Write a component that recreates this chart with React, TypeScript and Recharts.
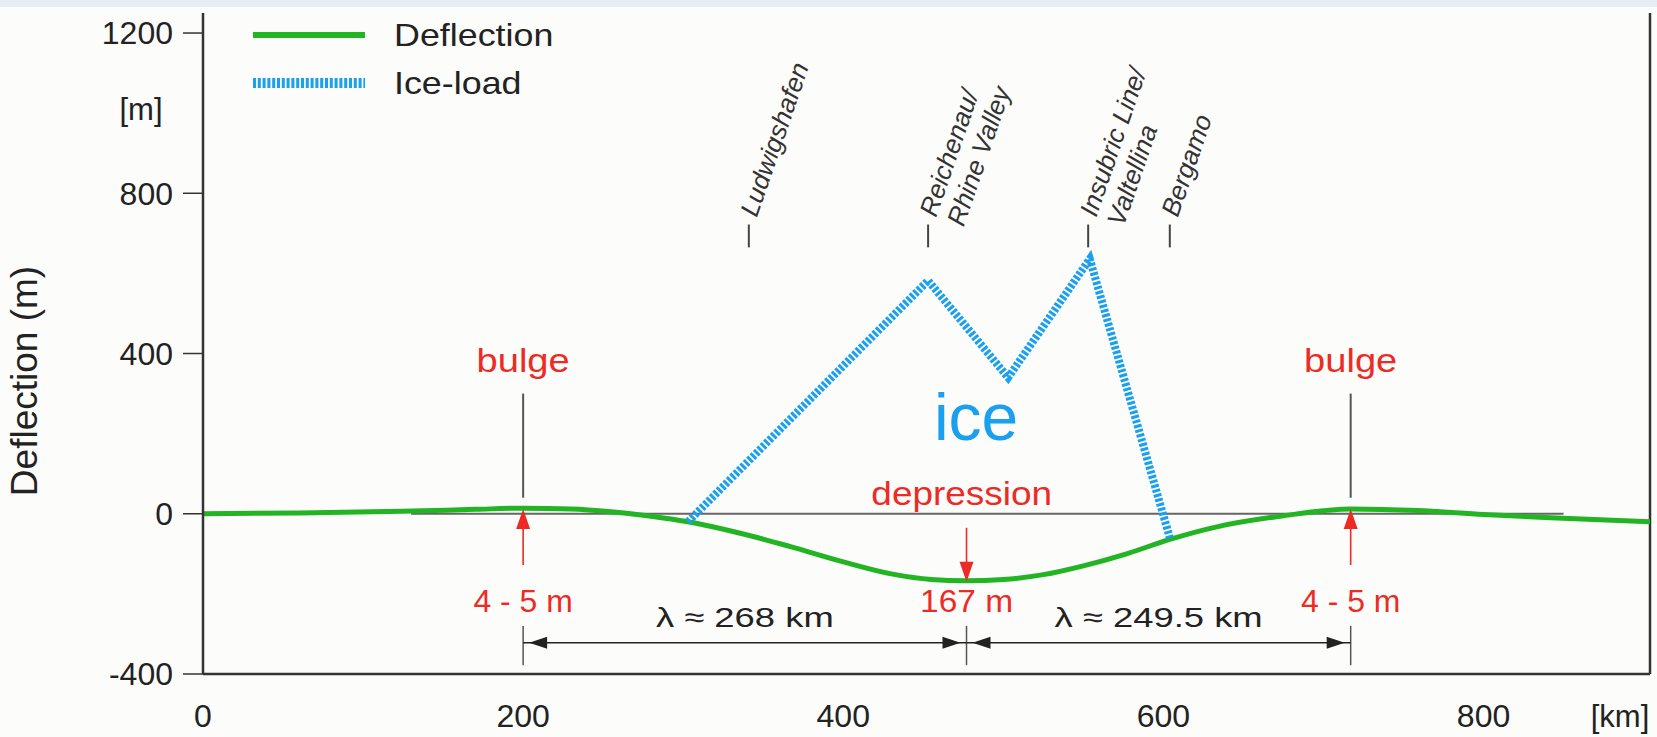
import React from 'react';
import { ComposedChart, Line, XAxis, YAxis, ReferenceLine, ReferenceDot, Legend } from 'recharts';

const FONT = '"Liberation Sans", Arial, Helvetica, sans-serif';
const GREEN = '#22b422';
const BLUE = '#1aa0ee';
const RED = '#ec2b25';
const INK = '#222';

// deflection profile (km along the section, metres)
const deflectionKm = [0, 60, 124, 170, 200, 230, 255, 280, 303, 335, 367, 400, 430, 455, 477, 500, 525, 550, 577, 604, 634, 675, 717, 759, 800, 842, 904];
const deflectionM = [0, 2, 6, 11, 14, 12, 5, -6, -20, -48, -82, -120, -150, -164, -167, -164, -152, -130, -100, -64, -32, -5, 12, 8, -2, -10, -20];

// ice load outline
const iceKm = [303, 453, 503, 554, 604];
const iceM = [-20, 582, 340, 636, -60];

const xTicks = [0, 200, 400, 600, 800];
const yTicks = [-400, 0, 400, 800, 1200];

const bulgeKm = [200, 717];
const depressionKm = 477;
const wavelengthLabels = ['λ ≈ 268 km', 'λ ≈ 249.5 km'];
const siteKm = [341, 453, 553, 604];
const siteNames = [['Ludwigshafen'], ['Reichenau/', 'Rhine Valley'], ['Insubric Line/', 'Valtellina'], ['Bergamo']];

const deflectionData = deflectionKm.map((km, i) => ({ km, m: deflectionM[i] }));
const iceData = iceKm.map((km, i) => ({ km, m: iceM[i] }));

const textAt = (text: string, size: number, color: string, sx = 1) => (p: any) => (
  <text
    transform={`translate(${p.cx},${p.cy}) scale(${sx},1)`}
    textAnchor="middle"
    fontSize={size}
    fill={color}
    fontFamily={FONT}
  >
    {text}
  </text>
);

const head = (dir: string, color: string, len: number, half: number, gap = 0) => (p: any) => {
  const { cx, cy } = p;
  let pts = '';
  if (dir === 'up') pts = `${cx},${cy} ${cx - half},${cy + len} ${cx + half},${cy + len}`;
  if (dir === 'down') pts = `${cx},${cy} ${cx - half},${cy - len} ${cx + half},${cy - len}`;
  if (dir === 'left') {
    const x = cx + gap;
    pts = `${x},${cy} ${x + len},${cy - half} ${x + len},${cy + half}`;
  }
  if (dir === 'right') {
    const x = cx - gap;
    pts = `${x},${cy} ${x - len},${cy - half} ${x - len},${cy + half}`;
  }
  return <polygon points={pts} fill={color} />;
};

const siteLabel = (lines: string[]) => (p: any) => (
  <g transform={`translate(${p.cx + 8},${p.cy}) rotate(-71)`}>
    {lines.map((t, i) => (
      <text key={i} x={0} y={i * 29} fontSize={26} fontStyle="italic" fill="#333" fontFamily={FONT}>
        {t}
      </text>
    ))}
  </g>
);

function YTitle(props: any) {
  const vb = props.viewBox || { x: 0, y: 0, width: 0, height: 0 };
  const cy = vb.y + 368;
  return (
    <g>
      <text
        transform={`translate(${vb.x + 24},${cy}) rotate(-90)`}
        textAnchor="middle"
        dominantBaseline="central"
        fontSize={37}
        fill={INK}
        fontFamily={FONT}
      >
        Deflection (m)
      </text>
      <text x={vb.x + 141} y={vb.y + 96} textAnchor="middle" dominantBaseline="central" fontSize={31} fill={INK} fontFamily={FONT}>
        [m]
      </text>
    </g>
  );
}

function KmUnit(props: any) {
  const vb = props.viewBox || { x: 0, y: 0, width: 0, height: 0 };
  return (
    <text x={vb.x + vb.width - 30} y={vb.y + 53} textAnchor="middle" fontSize={31} fill={INK} fontFamily={FONT}>
      [km]
    </text>
  );
}

const renderLegend = () => (
  <svg width={400} height={110}>
    <line x1={13} x2={125} y1={35} y2={35} stroke={GREEN} strokeWidth={6} />
    <text transform="translate(154,35) scale(1.12,1)" dominantBaseline="central" fontSize={32} fill={INK} fontFamily={FONT}>
      Deflection
    </text>
    <line x1={13} x2={125} y1={83} y2={83} stroke={BLUE} strokeWidth={10} strokeDasharray="3 1.8" />
    <text transform="translate(154,83) scale(1.12,1)" dominantBaseline="central" fontSize={32} fill={INK} fontFamily={FONT}>
      Ice-load
    </text>
  </svg>
);

export default function App() {
  const axisStyle = { stroke: '#333', strokeWidth: 2.5 };
  const tickStyle = { fontSize: 32, fill: INK, fontFamily: FONT };
  const spans = [[bulgeKm[0], depressionKm], [depressionKm, bulgeKm[1]]];
  return (
    <div style={{ position: 'absolute', left: 0, top: 0, width: 1657, height: 737, background: '#fcfcfb', overflow: 'hidden' }}>
      <div style={{ position: 'absolute', left: 0, top: 0, width: 1657, height: 7, background: '#e6edf4' }} />
      <ComposedChart width={1657} height={737} margin={{ top: 13, right: 7, bottom: 0, left: 0 }}>
        <XAxis
          type="number"
          dataKey="km"
          domain={[0, 904]}
          ticks={xTicks}
          allowDataOverflow
          height={63}
          tickSize={0}
          tickMargin={30}
          tickLine={false}
          axisLine={axisStyle}
          tick={tickStyle}
          label={<KmUnit />}
        />
        <YAxis
          type="number"
          domain={[-400, 1250]}
          ticks={yTicks}
          allowDataOverflow
          width={203}
          tickSize={20}
          tickMargin={10}
          tickLine={{ stroke: '#333', strokeWidth: 1.5 }}
          axisLine={axisStyle}
          tick={tickStyle}
          label={<YTitle />}
        />
        <Legend layout="horizontal" verticalAlign="middle" align="center" content={renderLegend} wrapperStyle={{ top: 0, left: 240, width: 400, height: 110 }} />

        <ReferenceLine x={904} stroke="#333" strokeWidth={2.5} />
        <ReferenceLine segment={[{ x: 130, y: 0 }, { x: 850, y: 0 }]} stroke="#666" strokeWidth={2} />

        {/* site ticks and names */}
        {siteKm.map((km, i) => (
          <ReferenceLine key={'st' + i} segment={[{ x: km, y: 665 }, { x: km, y: 722 }]} stroke="#444" strokeWidth={2} />
        ))}
        {siteKm.map((km, i) => (
          <ReferenceDot key={'sn' + i} x={km} y={738} r={0} ifOverflow="visible" shape={siteLabel(siteNames[i])} />
        ))}

        {/* bulges */}
        {bulgeKm.map((km, i) => (
          <ReferenceLine key={'bl' + i} segment={[{ x: km, y: 40 }, { x: km, y: 300 }]} stroke="#555" strokeWidth={2} />
        ))}
        {bulgeKm.map((km, i) => (
          <ReferenceLine key={'bs' + i} segment={[{ x: km, y: -128 }, { x: km, y: -10 }]} stroke={RED} strokeWidth={1.6} />
        ))}
        {bulgeKm.map((km, i) => (
          <ReferenceDot key={'bh' + i} x={km} y={12} r={0} ifOverflow="visible" shape={head('up', RED, 20, 7)} />
        ))}
        {bulgeKm.map((km, i) => (
          <ReferenceDot key={'bt' + i} x={km} y={355} r={0} ifOverflow="visible" shape={textAt('bulge', 34, RED, 1.12)} />
        ))}
        {bulgeKm.map((km, i) => (
          <ReferenceDot key={'bv' + i} x={km} y={-245} r={0} ifOverflow="visible" shape={textAt('4 - 5 m', 31, RED, 1.03)} />
        ))}

        {/* depression */}
        <ReferenceLine segment={[{ x: depressionKm, y: -35 }, { x: depressionKm, y: -150 }]} stroke={RED} strokeWidth={1.6} />
        <ReferenceDot x={depressionKm} y={-170} r={0} ifOverflow="visible" shape={head('down', RED, 20, 7)} />
        <ReferenceDot x={474} y={22} r={0} ifOverflow="visible" shape={textAt('depression', 33, RED, 1.12)} />
        <ReferenceDot x={depressionKm} y={-245} r={0} ifOverflow="visible" shape={textAt('167 m', 31, RED, 1.08)} />

        {/* wavelength dimension lines */}
        {[bulgeKm[0], depressionKm, bulgeKm[1]].map((km, i) => (
          <ReferenceLine key={'dt' + i} segment={[{ x: km, y: -280 }, { x: km, y: -378 }]} stroke="#555" strokeWidth={1.5} />
        ))}
        {spans.map(([a, b], i) => (
          <ReferenceLine key={'dl' + i} segment={[{ x: a, y: -322 }, { x: b, y: -322 }]} stroke={INK} strokeWidth={1.5} />
        ))}
        {spans.map(([a], i) => (
          <ReferenceDot key={'dha' + i} x={a} y={-322} r={0} ifOverflow="visible" shape={head('left', INK, 18, 6, 6)} />
        ))}
        {spans.map(([, b], i) => (
          <ReferenceDot key={'dhb' + i} x={b} y={-322} r={0} ifOverflow="visible" shape={head('right', INK, 18, 6, 6)} />
        ))}
        {spans.map(([a, b], i) => (
          <ReferenceDot key={'dtx' + i} x={(a + b) / 2} y={-282} r={0} ifOverflow="visible" shape={textAt(wavelengthLabels[i], 28, INK, 1.3)} />
        ))}

        <ReferenceDot x={483} y={185} r={0} ifOverflow="visible" shape={textAt('ice', 66, BLUE)} />

        <Line data={deflectionData} dataKey="m" type="monotone" stroke={GREEN} strokeWidth={5} dot={false} isAnimationActive={false} />
        <Line data={iceData} dataKey="m" type="linear" stroke={BLUE} strokeWidth={8} strokeDasharray="3 1.8" dot={false} isAnimationActive={false} />
      </ComposedChart>
    </div>
  );
}
